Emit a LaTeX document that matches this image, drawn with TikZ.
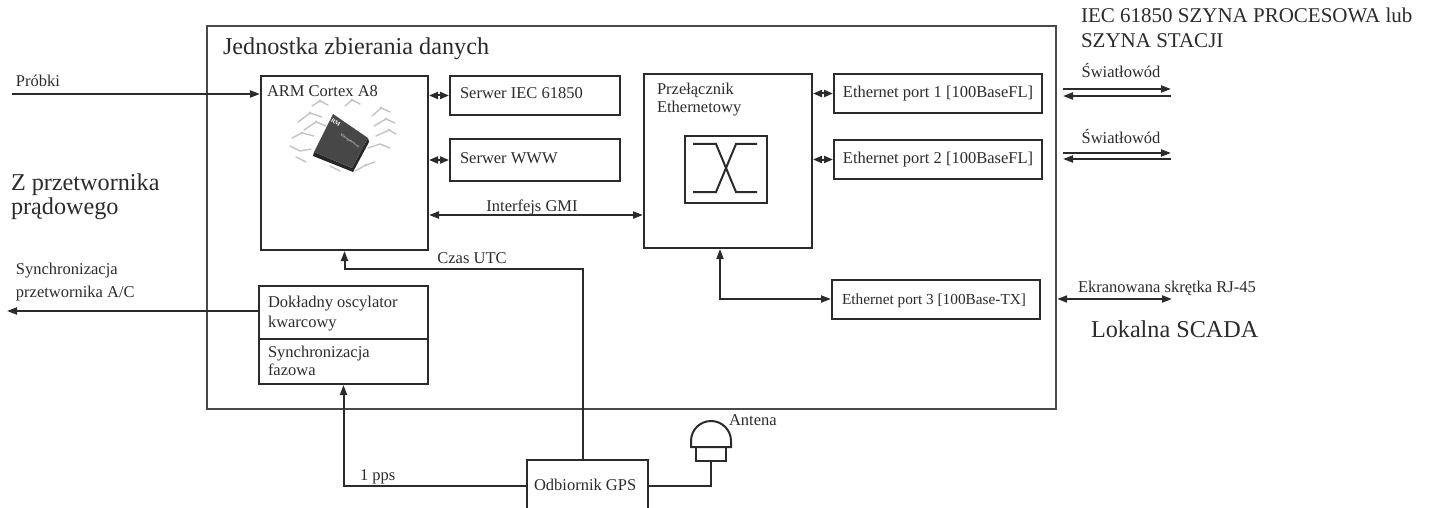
\documentclass[tikz,border=0pt]{standalone}
\usepackage{fontspec}
\setmainfont{Liberation Serif}
\usetikzlibrary{arrows.meta}
\definecolor{ink}{HTML}{2B2B2B}
\definecolor{frame}{HTML}{4A4A4A}
\definecolor{trace}{HTML}{C4C4C4}
\begin{document}
\begin{tikzpicture}[x=1pt,y=-1pt,color=ink,line width=2pt,
  box/.style={draw,inner sep=0pt,anchor=north west},
  sm/.style={font=\fontsize{16.5}{20}\selectfont,inner sep=0pt,anchor=base west},
  smc/.style={font=\fontsize{16.5}{20}\selectfont,inner sep=0pt,anchor=base},
  lg/.style={font=\fontsize{24.2}{26}\selectfont,inner sep=0pt,anchor=base west},
  hd/.style={font=\fontsize{21}{26}\selectfont,inner sep=0pt,anchor=base west},
  tip/.tip={Triangle[length=10pt,width=7pt]},
  arr/.style={-tip},
  darr/.style={tip-tip},
  sdarr/.style={{Triangle[length=9pt,width=7pt]}-{Triangle[length=9pt,width=7pt]}}]
\useasboundingbox (0,0) rectangle (1429,508);
\clip (0,0) rectangle (1429,508);

% main unit frame
\node[box,draw=frame,line width=2.2pt,minimum width=849pt,minimum height=383pt] (outer) at (206,25) {};
\node[lg] (title) at (222,55) {Jednostka zbierania danych};

% processor and servers
\node[box,minimum width=167pt,minimum height=174pt] (arm) at (260,75) {};
\node[sm] (armlbl) at (266,97) {ARM Cortex A8};
\node[box,minimum width=170pt,minimum height=39pt] (srvA) at (449,75) {};
\node[sm] (srvAlbl) at (459,99) {Serwer IEC 61850};
\node[box,minimum width=170pt,minimum height=42pt] (srvB) at (449,138) {};
\node[sm] (srvBlbl) at (459,164) {Serwer WWW};

% chip sketch inside the processor box
\begin{scope}[line width=1.4pt,trace,line cap=round,line join=round]
  \draw (298,122) -- (310,113) -- (322,117);
  \draw (304,130) -- (316,122) -- (326,126);
  \draw (312,106) -- (320,101) -- (328,105);
  \draw (292,138) -- (302,133) -- (314,136);
  \draw (290,146) -- (300,151) -- (311,149);
  \draw (296,157) -- (306,162);
  \draw (372,116) -- (381,108) -- (390,112);
  \draw (374,126) -- (386,119) -- (395,123);
  \draw (376,136) -- (389,130) -- (396,134);
  \draw (368,148) -- (380,144) -- (390,148);
  \draw (330,166) -- (340,171);
  \draw (355,171) -- (366,165) -- (375,162);
  \draw (345,106) -- (352,100) -- (360,104);
  \foreach \p in {(310,113),(316,122),(320,101),(302,133),(381,108),(386,119),(389,130),(352,100),(366,165)}
    \fill \p circle (1.6pt);
\end{scope}
\fill[black!85] (314,152) -- (352,168) -- (368,138) -- (369,142) -- (353,172) -- (313,156) -- cycle;
\fill[black!72] (333,114) -- (368,138) -- (352,168) -- (314,152) -- cycle;
\node[white,font=\fontsize{6}{6}\bfseries,rotate=-34,inner sep=0pt] (armmark) at (334,121) {ARM};
\node[white,font=\fontsize{3.5}{4}\selectfont,rotate=-34,inner sep=0pt] (mpmark) at (350,141) {Microprocessor};

% ethernet switch
\node[box,minimum width=168pt,minimum height=174pt] (sw) at (643,73) {};
\node[sm] (swlbl1) at (656,95) {Przełącznik};
\node[sm] (swlbl2) at (656,113) {Ethernetowy};
\node[box,minimum width=82pt,minimum height=67pt] (xbox) at (684,135) {};
\draw (693,144) -- (716,144) -- (736,192) -- (757,192);
\draw (693,192) -- (716,192) -- (736,144) -- (757,144);

% ports
\node[box,minimum width=208pt,minimum height=39pt] (p1) at (833,73) {};
\node[font=\fontsize{16.5}{20}\selectfont,inner sep=0pt] (p1lbl) at (p1.center) {Ethernet port 1 [100BaseFL]};
\node[box,minimum width=208pt,minimum height=39pt] (p2) at (833,139) {};
\node[font=\fontsize{16.5}{20}\selectfont,inner sep=0pt] (p2lbl) at (p2.center) {Ethernet port 2 [100BaseFL]};
\node[box,minimum width=208pt,minimum height=39pt] (p3) at (831,279) {};
\node[font=\fontsize{15.3}{18}\selectfont,inner sep=0pt,anchor=base west] (p3lbl) at (841,304) {Ethernet port 3 [100Base-TX]};

% oscillator / phase sync block
\node[box,minimum width=169pt,minimum height=98pt] (osc) at (258,285) {};
\coordinate (div) at (300,339);
\draw (div -| osc.west) -- (div -| osc.east);
\node[sm] (osc1) at (267,307) {Dokładny oscylator};
\node[sm] (osc2) at (267,327) {kwarcowy};
\node[sm] (pll1) at (267,357) {Synchronizacja};
\node[sm] (pll2) at (267,375) {fazowa};

% GPS receiver and antenna
\node[box,minimum width=121pt,minimum height=52pt] (gps) at (526,459) {};
\node[sm] (gpslbl) at (533,490) {Odbiornik GPS};
\node[draw,inner sep=0pt,minimum width=30pt,minimum height=14pt] (ant) at (711,454) {};
\draw (691,447) -- (691,441) arc[start angle=180,end angle=0,radius=20pt] -- (731,447) -- cycle;
\node[sm] (antlbl) at (728,425) {Antena};

% connectors
\draw[sdarr] (srvA.west -| arm.east) -- (srvA.west);
\draw[sdarr] (srvB.west -| arm.east) -- (srvB.west);
\draw[sdarr] (p1.west -| sw.east) -- (p1.west);
\draw[sdarr] (p2.west -| sw.east) -- (p2.west);
\coordinate (gmi) at (535,215);
\draw[darr] (gmi -| arm.east) -- (gmi -| sw.west);
\node[smc] (gmilbl) at (532,211) {Interfejs GMI};
\coordinate (p3turn) at (720,299);
\draw[darr] (sw.south -| p3turn) -- (p3turn) -- (p3turn -| p3.west);

\coordinate (utc) at (583,269);
\draw[arr] (gps.north -| utc) -- (utc) -| (arm.south);
\node[smc] (utclbl) at (472,263) {Czas UTC};
\draw[arr] (gps.west) -| (osc.south);
\node[sm] (ppslbl) at (359,480) {1 pps};
\draw (gps.east) -| (ant.south);

\coordinate (pin) at (12,94);
\draw[arr] (pin) -- (pin -| arm.west);
\node[sm] (pinlbl) at (15,87) {Próbki};
\coordinate (syncout) at (7,311);
\draw[arr] (syncout -| osc.west) -- (syncout);
\node[sm] (sync1) at (15,274) {Synchronizacja};
\node[sm] (sync2) at (15,297) {przetwornika A/C};
\node[lg] (ct1) at (10,190) {Z przetwornika};
\node[lg] (ct2) at (10,214) {prądowego};

% external links
\coordinate (f1a) at (1063,89);  \coordinate (f1b) at (1171,89);
\coordinate (f1c) at (1171,96);  \coordinate (f1d) at (1063,96);
\coordinate (f2a) at (1063,153); \coordinate (f2b) at (1171,153);
\coordinate (f2c) at (1171,159); \coordinate (f2d) at (1063,159);
\draw[arr] (f1a) -- (f1b);
\draw[arr] (f1c) -- (f1d);
\draw[arr] (f2a) -- (f2b);
\draw[arr] (f2c) -- (f2d);
\node[smc] (fo1) at (1121,78) {Światłowód};
\node[smc] (fo2) at (1121,143) {Światłowód};
\node[hd] (bus1) at (1080,23) {IEC 61850 SZYNA PROCESOWA lub};
\node[hd] (bus2) at (1080,48) {SZYNA STACJI};
\coordinate (scada) at (1172,299);
\draw[darr] (scada -| outer.east) -- (scada);
\node[sm] (rj) at (1077,292) {Ekranowana skrętka RJ-45};
\node[lg] (scadalbl) at (1090,337) {Lokalna SCADA};
\end{tikzpicture}
\end{document}
